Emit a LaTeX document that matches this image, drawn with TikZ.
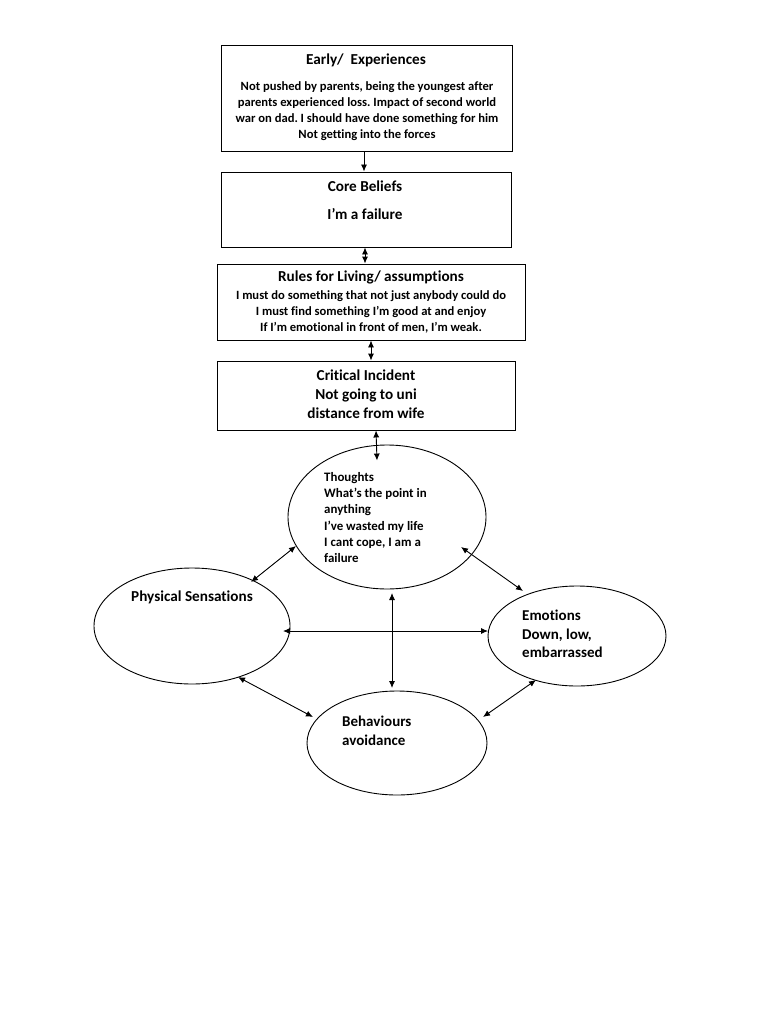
\documentclass[tikz,border=0pt]{standalone}
\usepackage{fontspec}
\setmainfont{Carlito}[Ligatures={NoCommon}]
\usetikzlibrary{shapes.geometric,calc,arrows.meta}
\frenchspacing
\begin{document}
\begin{tikzpicture}[x=1pt,y=-1pt,
  box/.style={draw,line width=0.9pt,rectangle,inner sep=0},
  oval/.style={draw,line width=0.9pt,ellipse,inner sep=0},
  ttl/.style={font=\bfseries\fontsize{15.2}{16}\selectfont,align=center,inner sep=0},
  body/.style={font=\bfseries\fontsize{12.6}{16}\selectfont,align=center,inner sep=0},
  big/.style={font=\bfseries\fontsize{15.2}{19}\selectfont,align=center,inner sep=0},
  otxt/.style={font=\bfseries\fontsize{15}{18.7}\selectfont,align=left,inner sep=0,anchor=west},
  arr/.style={line width=0.9pt,-{Latex[length=7pt,width=6pt]}},
  darr/.style={line width=0.9pt,{Latex[length=7pt,width=6pt]}-{Latex[length=7pt,width=6pt]}}]
\useasboundingbox (0,0) rectangle (768,1024);
\fill[white] (0,0) rectangle (768,1024);

% boxes
\node[box,minimum width=291pt,minimum height=106pt] (early) at (366.5,98) {};
\node[box,minimum width=290pt,minimum height=75pt] (core) at (366,209.5) {};
\node[box,minimum width=308pt,minimum height=76pt] (rules) at (371,302) {};
\node[box,minimum width=298pt,minimum height=69pt] (crit) at (366,395.5) {};

% ellipses
\node[oval,minimum width=198pt,minimum height=144pt] (th) at (387,517) {};
\node[oval,minimum width=196pt,minimum height=116pt] (ph) at (192,626) {};
\node[oval,minimum width=178pt,minimum height=100pt] (em) at (577,636) {};
\node[oval,minimum width=180pt,minimum height=104pt] (be) at (397,743) {};

% texts
\node[ttl] (earlyT) at (366,60) {Early/\ \ Experiences};
\node[body] (earlyB) at (367,111) {Not pushed by parents, being the youngest after\\parents experienced loss. Impact of second world\\war on dad. I should have done something for him\\Not getting into the forces};
\node[ttl] (coreT) at (365,186) {Core Beliefs};
\node[big] (coreB) at (365,214) {I’m a failure};
\node[ttl] (rulesT) at (371,277) {Rules for Living/ assumptions};
\node[body] (rulesB) at (371,312) {I must do something that not just anybody could do\\I must find something I’m good at and enjoy\\If I’m emotional in front of men, I’m weak.};
\node[big] (critT) at (366,394) {Critical Incident\\Not going to uni\\distance from wife};
\node[otxt,font=\bfseries\fontsize{12.9}{16.2}\selectfont] (thT) at (324,517.5) {Thoughts\\What’s the point in\\anything\\I’ve wasted my life\\I cant cope, I am a\\failure};
\node[ttl] (phT) at (192,597) {Physical Sensations};
\node[otxt] (emT) at (522,634) {Emotions\\Down, low,\\embarrassed};
\node[otxt] (beT) at (342,730.5) {Behaviours\\avoidance};

% connectors
\draw[arr] ($(early.south)+(-2.5,0)$) -- ($(core.north)+(-2,0)$);
\draw[darr] ($(core.south)+(-1,0)$) -- ($(rules.north)+(-6,0)$);
\draw[darr] (rules.south) -- ($(crit.north)+(5,0)$);
\draw[darr] ($(crit.south)+(10,0)$) -- ($(th.north)+(-10,16)$);
\draw[darr] ($(th.center)+(-91,29)$) -- ($(ph.center)+(59,-44)$);
\draw[darr] ($(th.center)+(74,30)$) -- ($(em.center)+(-54,-45)$);
\draw[darr] ($(th.center)+(5,76)$) -- ($(be.center)+(-5,-55)$);
\draw[darr] ($(ph.center)+(91,5)$) -- ($(em.center)+(-89,-5)$);
\draw[darr] ($(ph.center)+(46,51)$) -- ($(be.center)+(-84,-26)$);
\draw[darr] ($(em.center)+(-41,44)$) -- ($(be.center)+(86,-26)$);
\end{tikzpicture}
\end{document}
